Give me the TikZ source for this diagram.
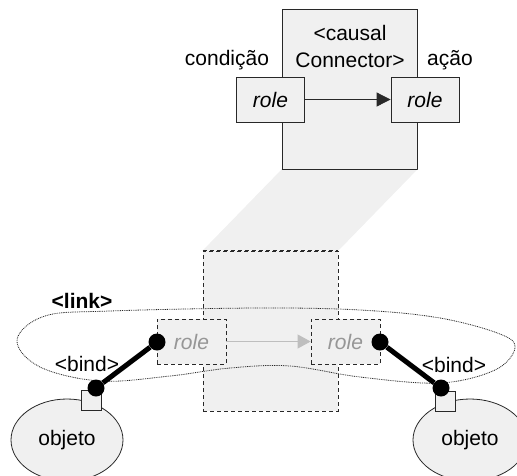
\documentclass[tikz,border=0pt]{standalone}
\usepackage{fontspec}
\setmainfont{Liberation Sans}
\usetikzlibrary{arrows.meta,shapes.geometric}
\definecolor{lightfill}{RGB}{240,240,240}
\definecolor{edge}{RGB}{40,40,40}
\definecolor{ghost}{RGB}{150,150,150}
\definecolor{ghostline}{RGB}{190,190,190}
\tikzset{
  txt/.style={font=\fontsize{21}{27}\selectfont, inner sep=0pt},
  solidbox/.style={draw=edge, line width=0.8pt, fill=lightfill},
  dashbox/.style={draw=edge, line width=0.8pt, fill=lightfill, dash pattern=on 4pt off 3pt},
  rolebox/.style={solidbox, minimum width=68pt, minimum height=45pt, inner sep=0pt, font=\fontsize{21}{24}\selectfont\itshape},
  ghostrole/.style={dashbox, minimum width=69pt, minimum height=45pt, inner sep=0pt, text=ghost, font=\fontsize{21}{24}\selectfont\itshape},
  dot/.style={circle, fill=black, inner sep=0pt, minimum size=17pt},
  port/.style={draw=edge, line width=0.8pt, fill=lightfill, minimum width=20pt, minimum height=20pt, inner sep=0pt},
  obj/.style={draw=edge, line width=0.8pt, fill=lightfill, ellipse, inner sep=0pt},
  bindline/.style={line width=5pt, black},
  bigbox/.style={minimum width=135pt, minimum height=160pt, inner sep=0pt},
}
\begin{document}
\begin{tikzpicture}[x=1pt,y=-1pt]
\useasboundingbox (0,0) rectangle (517,475);
% connector box and its expanded view
\node[solidbox, bigbox] (top) at (349.5,89) {};
\node[dashbox, bigbox] (low) at (270.5,331) {};
% shaded projection
\fill[lightfill] (top.south west) -- (top.south east) -- (low.north east) -- (low.north west) -- cycle;
\draw[edge, line width=0.8pt] (top.south west) -- (top.south east);
\draw[edge, line width=0.8pt, dash pattern=on 4pt off 3pt] (low.north west) -- (low.north east);
\node[txt, align=center] (title) at (350,46.5) {<causal\\Connector>};
\node[txt] (cond) at (227,60) {condição};
\node[txt] (acao) at (450,60) {ação};
\node[rolebox] (r1) at (270.5,99.5) {role};
\node[rolebox] (r2) at (425,99.5) {role};
\draw[edge, line width=0.8pt, -{Triangle[length=14pt,width=14pt]}] (r1) -- (r2);
% link curve
\draw[line width=0.8pt, dash pattern=on 0.9pt off 0.9pt, draw=black!85]
  plot[smooth cycle, tension=0.6] coordinates {(17,340) (45,316) (110,311) (258,308) (360,310) (440,318) (500,334) (515,348) (495,370) (440,383) (360,377) (290,366) (230,368) (170,376) (100,381) (40,367)};
\node[txt, font=\fontsize{21}{24}\selectfont\bfseries] (link) at (82,301) {<link>};
% ghost roles
\node[ghostrole] (g1) at (191.5,341.5) {role};
\node[ghostrole] (g2) at (345.5,341.5) {role};
\draw[ghostline, line width=0.8pt, -{Triangle[length=13pt,width=14pt]}] (g1) -- (g2);
% objects
\node[obj, minimum width=112pt, minimum height=82pt] (o1) at (67,440) {};
\node[txt] at (o1) {objeto};
\node[obj, minimum width=114pt, minimum height=82pt] (o2) at (470,440) {};
\node[txt] at (o2) {objeto};
\node[port] (p1) at (91,400.5) {};
\node[port] (p2) at (445,401) {};
% binds
\node[dot] (d1) at (157,342) {};
\node[dot] (d2) at (96,388) {};
\node[dot] (d3) at (380,342) {};
\node[dot] (d4) at (441,388) {};
\draw[bindline] (d1) -- (d2);
\draw[bindline] (d3) -- (d4);
\node[txt] (b1) at (87,364) {<bind>};
\node[txt] (b2) at (454,365) {<bind>};
\end{tikzpicture}
\end{document}
